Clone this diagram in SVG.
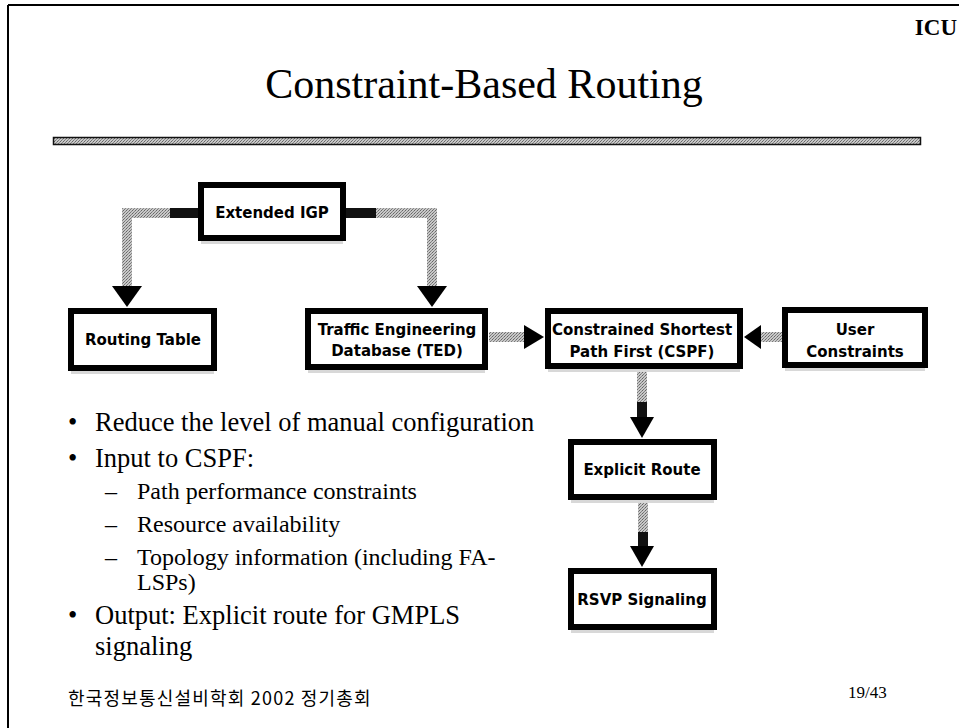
<svg xmlns="http://www.w3.org/2000/svg" width="959" height="728" viewBox="0 0 959 728">
<defs>
<pattern id="dith" width="3" height="3" patternUnits="userSpaceOnUse">
<rect width="3" height="3" fill="#c8c8c8"/>
<rect x="0" y="0" width="1" height="1" fill="#666"/>
<rect x="2" y="1" width="1" height="1" fill="#888"/>
<rect x="1" y="2" width="1" height="1" fill="#777"/>
</pattern>
<style>
.box{fill:#fff;stroke:#000;stroke-width:6}
.shadow{fill:#d8d8d8}
.lbl{font-family:"DejaVu Sans",Verdana,sans-serif;font-weight:bold;font-size:15px;fill:#000;text-anchor:middle}
.serif{font-family:"Liberation Serif","Times New Roman",serif;fill:#000}
.b1{font-size:26.5px}
.b2{font-size:24px}
.shaft{fill:url(#dith)}
.dark{fill:#111}
.head{fill:#000}
</style>
</defs>
<rect width="959" height="728" fill="#fff"/>
<!-- frame -->
<line x1="8" y1="5" x2="959" y2="5" stroke="#000" stroke-width="2"/>
<line x1="8" y1="5" x2="8" y2="728" stroke="#000" stroke-width="2"/>
<text x="957" y="35" class="serif" font-size="23" font-weight="bold" text-anchor="end">ICU</text>
<text x="484" y="98" class="serif" font-size="42" text-anchor="middle">Constraint-Based Routing</text>
<rect x="53.5" y="137.5" width="867" height="7" fill="url(#dith)" stroke="#111" stroke-width="1.5"/>

<g id="connectors">
<rect class="shaft" x="122" y="208" width="76" height="10"/>
<rect class="dark" x="170" y="208" width="28" height="10"/>
<rect class="shaft" x="122" y="208" width="10" height="82"/>
<polygon class="head" points="112,286 142,286 127,307"/>
<rect class="shaft" x="346" y="208" width="91" height="10"/>
<rect class="dark" x="346" y="208" width="30" height="10"/>
<rect class="shaft" x="427" y="208" width="10" height="82"/>
<polygon class="head" points="417,286 447,286 432,307"/>
<rect class="shaft" x="489" y="332" width="38" height="10"/>
<polygon class="head" points="524,325 524,349 544,337"/>
<rect class="shaft" x="758" y="332" width="25" height="10"/>
<polygon class="head" points="761,325 761,349 744,337"/>
<rect class="shaft" x="637" y="370" width="10" height="50"/>
<rect class="dark" x="637" y="402" width="10" height="18"/>
<polygon class="head" points="630,417 654,417 642,438"/>
<rect class="shaft" x="638" y="502" width="10" height="47"/>
<rect class="dark" x="638" y="532" width="10" height="17"/>
<polygon class="head" points="630,546 654,546 642,567"/>
</g>

<g id="extended-igp">
<rect class="shadow" x="201" y="241" width="142" height="3"/>
<rect class="box" x="201" y="185" width="142" height="53"/>
<text class="lbl" x="272" y="218">Extended IGP</text>
</g>
<g id="routing-table">
<rect class="shadow" x="71" y="371" width="143" height="3"/>
<rect class="box" x="71" y="311" width="143" height="57"/>
<text class="lbl" x="143" y="345">Routing Table</text>
</g>
<g id="ted">
<rect class="shadow" x="308" y="370" width="177" height="3"/>
<rect class="box" x="308" y="311" width="177" height="56"/>
<text class="lbl" x="397" y="335">Traffic Engineering</text>
<text class="lbl" x="397" y="356">Database (TED)</text>
</g>
<g id="cspf">
<rect class="shadow" x="548" y="369" width="192" height="3"/>
<rect class="box" x="548" y="311" width="192" height="55"/>
<text class="lbl" x="642" y="335">Constrained Shortest</text>
<text class="lbl" x="642" y="357">Path First (CSPF)</text>
</g>
<g id="user-constraints">
<rect class="shadow" x="785" y="368" width="140" height="3"/>
<rect class="box" x="785" y="310" width="140" height="55"/>
<text class="lbl" x="855" y="335">User</text>
<text class="lbl" x="855" y="357">Constraints</text>
</g>
<g id="explicit-route">
<rect class="shadow" x="571" y="500" width="143" height="3"/>
<rect class="box" x="571" y="442" width="143" height="55"/>
<text class="lbl" x="642" y="475">Explicit Route</text>
</g>
<g id="rsvp-signaling">
<rect class="shadow" x="571" y="630" width="143" height="3"/>
<rect class="box" x="571" y="571" width="143" height="56"/>
<text class="lbl" x="642" y="605">RSVP Signaling</text>
</g>

<g id="bullets" class="serif">
<text class="b1" x="68" y="431">•</text>
<text class="b1" x="95" y="431">Reduce the level of manual configuration</text>
<text class="b1" x="68" y="467">•</text>
<text class="b1" x="95" y="467">Input to CSPF:</text>
<text class="b2" x="105" y="499">–</text>
<text class="b2" x="137" y="499">Path performance constraints</text>
<text class="b2" x="105" y="532">–</text>
<text class="b2" x="137" y="532">Resource availability</text>
<text class="b2" x="105" y="565">–</text>
<text class="b2" x="137" y="565">Topology information (including FA-</text>
<text class="b2" x="137" y="590">LSPs)</text>
<text class="b1" x="68" y="624">•</text>
<text class="b1" x="95" y="624">Output: Explicit route for GMPLS</text>
<text class="b1" x="95" y="655">signaling</text>
</g>
<text x="68" y="705" font-family="'Noto Sans CJK KR', sans-serif" font-size="18" letter-spacing="1.2" fill="#000">한국정보통신설비학회 2002 정기총회</text>
<text x="848" y="698" class="serif" font-size="17">19/43</text>
</svg>
